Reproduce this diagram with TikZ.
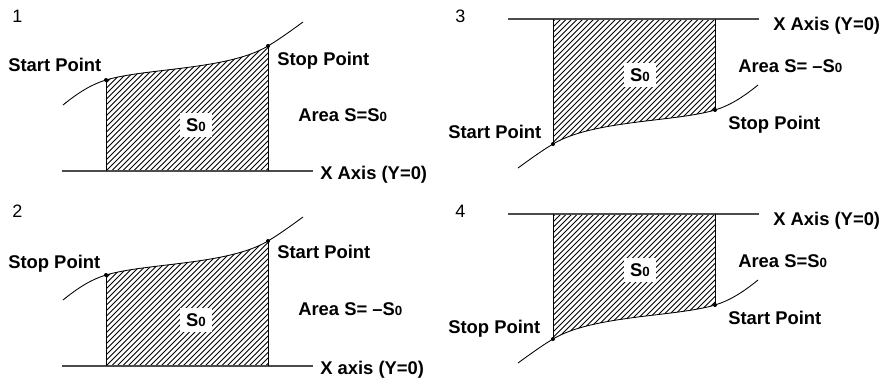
\documentclass[tikz,border=0pt]{standalone}
\usepackage{fontspec}
\setmainfont{Liberation Sans}
\newcommand\areapanel{%
  \coordinate (P0) at (63,105);
  \coordinate (A) at (106,80);
  \coordinate (B) at (268,46);
  \coordinate (E) at (303,22);
  \coordinate (AB) at (106,171);
  \coordinate (BB) at (268,171);
  \coordinate (L) at (62,171);
  \coordinate (R) at (313,171);
  \begin{scope}
    \clip (AB) -- (A) .. controls (146,68) and (228,70) .. (B) -- (BB) -- cycle;
    \foreach \i in {0,...,56} \draw[hatchline] ({-26+\i*5.5},171) -- ++(140,-140);
  \end{scope}
  \draw[axisline] (L) -- (R);
  \draw[curveline] (P0) .. controls (79,92) and (92,84.2) .. (A)
     .. controls (146,68) and (228,70) .. (B)
     .. controls (280,38.8) and (292,30) .. (E);
  \draw[curveline] (A) -- (AB);
  \draw[curveline] (B) -- (BB);
  \fill (A) circle[radius=2];
  \fill (B) circle[radius=2];
}
\newcommand\szero{S{\fontsize{10pt}{12pt}\selectfont 0}}
\begin{document}
\begin{tikzpicture}[x=0.75pt,y=-0.75pt,
  hatchline/.style={line width=0.6pt},
  axisline/.style={line width=0.9pt,black!70},
  curveline/.style={line width=0.65pt},
  lbl/.style={anchor=base west,inner sep=0pt,font=\fontsize{13.8pt}{16pt}\selectfont\bfseries},
  num/.style={anchor=base west,inner sep=0pt,font=\fontsize{13.5pt}{15pt}\selectfont},
  sbox/.style={fill=white,minimum width=24pt,minimum height=18pt,inner sep=0pt,font=\fontsize{13.8pt}{16pt}\selectfont\bfseries}]
\useasboundingbox (0,0) rectangle (889,383);
% panel 1
\begin{scope}
  \areapanel
\end{scope}
\node[num] (n1) at (12,22) {1};
\node[lbl] (p1a) at (8,71) {Start Point};
\node[lbl] (p1b) at (277,65) {Stop Point};
\node[lbl] (p1c) at (298,121) {Area S=\szero};
\node[lbl] (p1d) at (320,179) {X Axis (Y=0)};
\node[sbox] (p1s) at (196,125) {\szero};
% panel 2
\begin{scope}[shift={(0,195)}]
  \areapanel
\end{scope}
\node[num] (n2) at (12,217) {2};
\node[lbl] (p2a) at (8,268) {Stop Point};
\node[lbl] (p2b) at (277,258) {Start Point};
\node[lbl] (p2c) at (298,315) {Area S= \textendash\szero};
\node[lbl] (p2d) at (320,374) {X axis (Y=0)};
\node[sbox] (p2s) at (196,320) {\szero};
% panel 3
\begin{scope}[shift={(821,190)},xscale=-1,yscale=-1]
  \areapanel
\end{scope}
\node[num] (n3) at (455,22) {3};
\node[lbl] (p3a) at (448,138) {Start Point};
\node[lbl] (p3b) at (728,129) {Stop Point};
\node[lbl] (p3c) at (738,72) {Area S= \textendash\szero};
\node[lbl] (p3d) at (773,30) {X Axis (Y=0)};
\node[sbox] (p3s) at (640,75) {\szero};
% panel 4
\begin{scope}[shift={(821,385)},xscale=-1,yscale=-1]
  \areapanel
\end{scope}
\node[num] (n4) at (455,217) {4};
\node[lbl] (p4a) at (448,333) {Stop Point};
\node[lbl] (p4b) at (728,324) {Start Point};
\node[lbl] (p4c) at (738,267) {Area S=\szero};
\node[lbl] (p4d) at (773,225) {X Axis (Y=0)};
\node[sbox] (p4s) at (640,270) {\szero};
\end{tikzpicture}
\end{document}
